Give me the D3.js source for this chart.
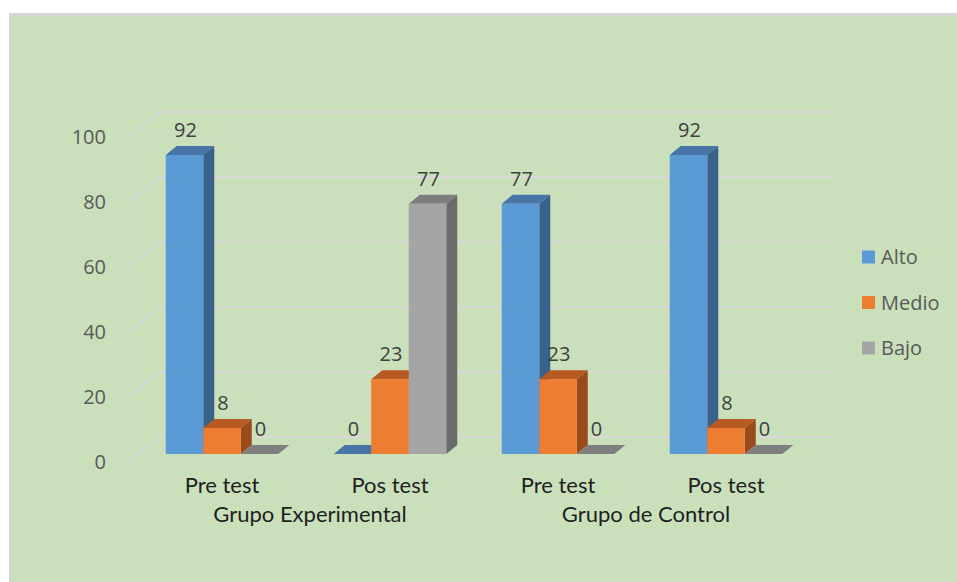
<!DOCTYPE html>
<html>
<head>
<meta charset="utf-8">
<script src="https://cdn.jsdelivr.net/npm/d3@7"></script>
<style>
  body { margin: 0; background: #fff; }
  svg { display: block; }
</style>
</head>
<body>
<svg id="chart"></svg>
<script>
// chart values
const categories = ["Pre test", "Pos test", "Pre test", "Pos test"];
const groups = ["Grupo Experimental", "Grupo de Control"];
const groupOf = [0, 0, 1, 1];
const seriesNames = ["Alto", "Medio", "Bajo"];
const alto = [92, 0, 77, 92];
const medio = [8, 23, 23, 8];
const bajo = [0, 77, 0, 0];
const yTicks = [0, 20, 40, 60, 80, 100];

const seriesValues = [alto, medio, bajo];

const svgWidth = 957, svgHeight = 582;

// colours: front, top, side
const colors = [
  {front: "#5b9bd5", top: "#4675a6", side: "#38628b"},
  {front: "#ed7d31", top: "#b75a22", side: "#9a4b1b"},
  {front: "#a5a5a5", top: "#7e7e7e", side: "#6b6b6b"}
];

const chart = d3.select("#chart")
    .attr("width", svgWidth)
    .attr("height", svgHeight);

// panel
chart.append("rect")
    .attr("x", 10.5).attr("y", 14.5)
    .attr("width", svgWidth).attr("height", svgHeight)
    .attr("fill", "#c9e0bb")
    .attr("stroke", "#d6d6d6")
    .attr("stroke-width", 3);

// 3d geometry
const wallDx = 32, wallDy = -25;   // depth of the whole plot
const barDx = 11, barDy = -9;      // depth of a bar

const yFront = d3.scaleLinear().domain([0, 100]).range([462, 137]);
const yBack = d3.scaleLinear().domain([0, 100]).range([437, 112]);
const yBar = d3.scaleLinear().domain([0, 100]).range([454, 129]);

const xScale = d3.scaleBand()
    .domain(d3.range(categories.length))
    .range([138, 810])
    .paddingInner(0.33)
    .paddingOuter(0.165);

const xSeries = d3.scaleBand()
    .domain(d3.range(seriesNames.length))
    .range([0, xScale.bandwidth()]);

const wallLeft = 128;
const wallRight = 832;

// gridlines: left wall and back wall
const grid = chart.append("g")
    .attr("stroke", "#d8d8d8")
    .attr("stroke-width", 2)
    .attr("fill", "none");

grid.selectAll("path.side")
    .data(yTicks)
    .enter().append("path")
    .attr("class", "side")
    .attr("d", d => `M${wallLeft},${yFront(d)}L${wallLeft + wallDx},${yBack(d)}L${wallRight},${yBack(d)}`);

// y tick labels
chart.append("g")
    .selectAll("text")
    .data(yTicks)
    .enter().append("text")
    .attr("x", 106)
    .attr("y", d => yFront(d))
    .attr("dy", "0.36em")
    .attr("text-anchor", "end")
    .attr("font-family", "'Open Sans', sans-serif")
    .attr("font-size", 20)
    .attr("fill", "#595959")
    .text(d => d);

// bars
const bars = [];
categories.forEach((c, i) => {
  seriesValues.forEach((vals, s) => {
    bars.push({cat: i, series: s, value: vals[i]});
  });
});

const barG = chart.append("g");

bars.forEach(b => {
  const x0 = xScale(b.cat) + xSeries(b.series);
  const x1 = x0 + xSeries.bandwidth();
  const yb = yBar(0);
  const yt = yBar(b.value);
  const col = colors[b.series];
  const g = barG.append("g");
  // side face
  if (b.value > 0) {
    g.append("path")
      .attr("d", `M${x1},${yt}L${x1 + barDx},${yt + barDy}L${x1 + barDx},${yb + barDy}L${x1},${yb}Z`)
      .attr("fill", col.side);
  }
  // top face
  g.append("path")
    .attr("d", `M${x0},${yt}L${x0 + barDx},${yt + barDy}L${x1 + barDx},${yt + barDy}L${x1},${yt}Z`)
    .attr("fill", col.top);
  // front face
  if (b.value > 0) {
    g.append("rect")
      .attr("x", x0).attr("y", yt)
      .attr("width", x1 - x0).attr("height", yb - yt)
      .attr("fill", col.front);
  }
});

// data labels
chart.append("g")
    .selectAll("text")
    .data(bars)
    .enter().append("text")
    .attr("x", d => xScale(d.cat) + xSeries(d.series) + xSeries.bandwidth() / 2 + 1)
    .attr("y", d => yBar(d.value) + barDy - 16)
    .attr("dy", "0.36em")
    .attr("text-anchor", "middle")
    .attr("font-family", "'Open Sans', sans-serif")
    .attr("font-size", 20)
    .attr("fill", "#404040")
    .text(d => d.value);

// category labels
const catCenter = i => xScale(i) + xScale.bandwidth() / 2;

chart.append("g")
    .selectAll("text")
    .data(categories)
    .enter().append("text")
    .attr("x", (d, i) => catCenter(i))
    .attr("y", 485)
    .attr("dy", "0.36em")
    .attr("text-anchor", "middle")
    .attr("font-family", "Lato, sans-serif")
    .attr("font-size", 22)
    .attr("fill", "#1f1f1f")
    .text(d => d);

chart.append("g")
    .selectAll("text")
    .data(groups)
    .enter().append("text")
    .attr("x", (d, gi) => d3.mean(categories.map((c, i) => i).filter(i => groupOf[i] === gi), catCenter) + 4)
    .attr("y", 514)
    .attr("dy", "0.36em")
    .attr("text-anchor", "middle")
    .attr("font-family", "Lato, sans-serif")
    .attr("font-size", 22)
    .attr("fill", "#1f1f1f")
    .text(d => d);

// legend
const legend = chart.append("g")
    .selectAll("g")
    .data(seriesNames)
    .enter().append("g")
    .attr("transform", (d, i) => `translate(862,${257 + i * 45.5})`);

legend.append("rect")
    .attr("x", 0).attr("y", -6.5)
    .attr("width", 13).attr("height", 13)
    .attr("fill", (d, i) => colors[i].front);

legend.append("text")
    .attr("x", 19)
    .attr("dy", "0.36em")
    .attr("font-family", "'Open Sans', sans-serif")
    .attr("font-size", 20)
    .attr("fill", "#595959")
    .text(d => d);
</script>
</body>
</html>
